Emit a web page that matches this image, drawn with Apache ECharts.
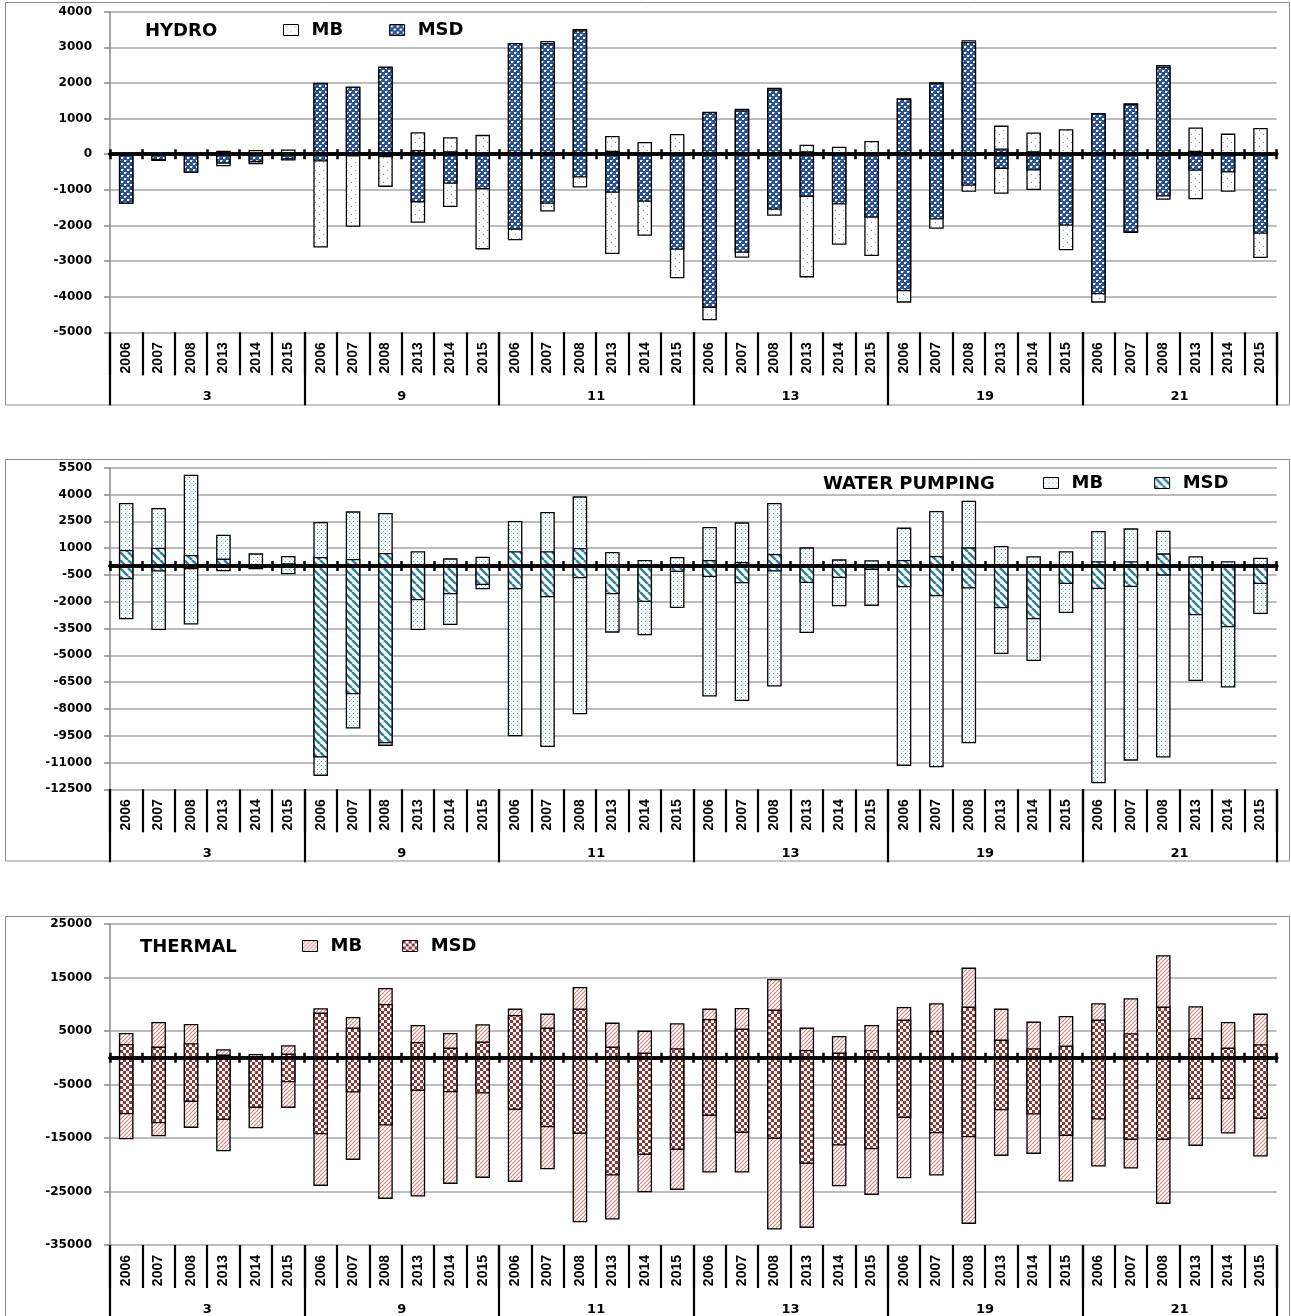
<!DOCTYPE html>
<html>
<head>
<meta charset="utf-8">
<script src="https://cdn.jsdelivr.net/npm/echarts@6/dist/echarts.min.js"></script>
<style>
html,body{margin:0;padding:0;background:#fff;}
#chart{width:1291px;height:1316px;}
</style>
</head>
<body>
<div id="chart"></div>
<script>
// ---------------- DATA ----------------
const years = ['2006','2007','2008','2013','2014','2015'];
const groups = ['3','9','11','13','19','21'];
const categories = [];
groups.forEach(function(){ years.forEach(function(y){ categories.push(y); }); });

// HYDRO
const hydroMBHigh  = [0,0,0,75,100,112, 1975,1865,2425,600,460,525, 3100,3160,3495,495,325,550, 1165,1260,1850,250,190,355, 1550,2000,3180,785,590,680, 1140,1410,2485,730,560,720];
const hydroMBLow   = [-1375,-175,-505,-320,-262,-160, -2600,-2020,-900,-1905,-1465,-2655, -2400,-1590,-915,-2785,-2270,-3465, -4645,-2890,-1710,-3440,-2525,-2840, -4150,-2075,-1035,-1095,-990,-2680, -4150,-2195,-1260,-1245,-1035,-2895];
const hydroMSDHigh = [0,0,0,0,0,0, 1990,1880,2440,100,65,0, 3105,3105,3460,75,30,0, 1170,1215,1805,65,0,0, 1540,1990,3130,140,65,0, 1130,1395,2440,75,45,0];
const hydroMSDLow  = [-1375,-150,-510,-250,-205,-130, -185,-45,-65,-1335,-815,-970, -2105,-1375,-635,-1065,-1320,-2665, -4300,-2750,-1540,-1185,-1395,-1765, -3830,-1815,-870,-395,-440,-1990, -3915,-2180,-1170,-450,-495,-2215];

// WATER PUMPING
const waterMBHigh  = [3490,3210,5075,1715,670,520, 2425,3020,2930,785,390,485, 2480,2985,3860,745,300,465, 2145,2405,3490,1005,335,280, 2110,3040,3620,1080,505,785, 1920,2070,1940,505,225,430];
const waterMBLow   = [-2950,-3545,-3245,-260,-150,-430, -11715,-9065,-10035,-3545,-3265,-1270, -9495,-10095,-8265,-3695,-3845,-2315, -7275,-7520,-6715,-3715,-2220,-2200, -11155,-11230,-9890,-4890,-5280,-2595, -12125,-10860,-10690,-6400,-6770,-2650];
const waterMSDHigh = [860,990,580,375,40,120, 465,355,690,0,0,0, 785,785,970,0,0,0, 300,185,635,0,0,0, 300,520,1005,0,0,0, 225,225,670,0,0,0];
const waterMSDLow  = [-710,-280,-150,-30,-120,-60, -10690,-7145,-9890,-1885,-1550,-1025, -1270,-1715,-655,-1550,-1980,-300, -580,-935,-280,-915,-635,-185, -1155,-1660,-1230,-2330,-2950,-970, -1250,-1140,-505,-2725,-3395,-970];

// THERMAL
const thermalMBHigh  = [4515,6575,6200,1465,590,2210, 9130,7510,12930,6010,4515,6135, 9065,8130,13115,6450,4955,6325, 9065,9190,14610,5515,3955,6010, 9375,10060,16730,9065,6635,7695, 10060,10995,19035,9500,6575,8130];
const thermalMBLow   = [-15110,-14550,-12990,-17350,-13055,-9250, -23830,-18970,-26260,-25825,-23460,-22335, -23085,-20715,-30625,-30125,-25015,-24580, -21340,-21340,-31995,-31680,-23895,-25515, -22400,-21900,-30935,-18225,-17850,-23020, -20220,-20590,-27195,-16355,-14050,-18350];
const thermalMSDHigh = [2460,1965,2585,465,220,655, 8320,5515,9940,2835,1775,2895, 7880,5515,9065,1965,840,1650, 7135,5325,8880,1340,840,1340, 7010,4955,9440,3270,1650,2150, 7010,4455,9440,3585,1775,2400];
const thermalMSDLow  = [-10435,-12120,-8130,-11495,-9250,-4455, -14175,-6385,-12555,-6075,-6325,-6575, -9625,-12865,-14110,-21900,-18035,-17105, -10750,-13925,-15045,-19720,-16295,-16980, -11120,-13990,-14735,-9690,-10500,-14485, -11435,-15235,-15235,-7630,-7630,-11310];

// axis ranges
const panelTitles = ['HYDRO','WATER PUMPING','THERMAL'];
const yMins = [-5000,-12500,-35000];
const yMaxs = [4000,5500,25000];
const yIntervals = [1000,1500,10000];

// ---------------- PATTERNS ----------------
function tile(w,h,draw){const c=document.createElement('canvas');c.width=w;c.height=h;const x=c.getContext('2d');x.fillStyle='#fff';x.fillRect(0,0,w,h);draw(x);return {image:c,repeat:'repeat'};}
const patHydroMB = tile(8,8,function(x){x.fillStyle='#6f93cc';x.fillRect(3,2,1,1);x.fillRect(7,6,1,1);});
const patHydroMSD = tile(6,6,function(x){x.fillStyle='#2b5394';x.fillRect(0,0,6,6);x.fillStyle='#ffffff';x.fillRect(1,1,2,2);x.fillRect(4,4,2,2);x.fillStyle='#8fa8d4';x.fillRect(3,1,1,1);x.fillRect(0,4,1,1);});
const patWaterMB = tile(4,4,function(x){x.fillStyle='#4aaac4';x.fillRect(1,1,1,1);x.fillStyle='#a8d8e4';x.fillRect(3,3,1,1);});
const patWaterMSD = tile(8,8,function(x){x.strokeStyle='#31859c';x.lineWidth=2.6;x.beginPath();[-8,0,8].forEach(function(o){x.moveTo(o,0);x.lineTo(o+8,8);});x.stroke();});
const patThermalMB = tile(4,4,function(x){x.strokeStyle='#d9817e';x.lineWidth=1.1;x.beginPath();[-4,0,4].forEach(function(o){x.moveTo(o,4);x.lineTo(o+4,0);});x.stroke();});
const patThermalMSD = tile(6,6,function(x){x.fillStyle='#963634';x.fillRect(0,0,3,3);x.fillRect(3,3,3,3);});

const panelSeries = [
  {prefix:'hydro', mb:[hydroMBLow,hydroMBHigh], msd:[hydroMSDLow,hydroMSDHigh], pats:[patHydroMB,patHydroMSD]},
  {prefix:'water', mb:[waterMBLow,waterMBHigh], msd:[waterMSDLow,waterMSDHigh], pats:[patWaterMB,patWaterMSD]},
  {prefix:'thermal', mb:[thermalMBLow,thermalMBHigh], msd:[thermalMSDLow,thermalMSDHigh], pats:[patThermalMB,patThermalMSD]}
];

// ---------------- LAYOUT ----------------
const gridTops = [11.7, 467.7, 924];
const gridHeights = [320.6, 321.6, 321];
const boxes = [[5.5,2.5,1284,402.5],[5.5,459.5,1284,401.5],[5.5,916.5,1284,402]];
const titlePos = [[145,22],[823,475],[140,938]];
const legendPos = [[283,21,46],[1043,474,51],[302,937,40]];

const FONT = 'DejaVu Sans';
const grids=[], xAxes=[], yAxes=[], series=[], titles=[], legends=[], graphics=[];

function renderRange(pattern){
  return function(params, api){
    const i = api.value(0);
    const lo = api.coord([i, api.value(1)]);
    const hi = api.coord([i, api.value(2)]);
    const bw = api.size([1,0])[0]*0.41;
    return {type:'rect', shape:{x:lo[0]-bw/2, y:hi[1], width:bw, height:lo[1]-hi[1]},
      style:{fill:pattern, stroke:'#000', lineWidth:1.3}};
  };
}

for (let p=0;p<3;p++){
  grids.push({left:110, width:1166.7, top:gridTops[p], height:gridHeights[p], containLabel:false});
  // zero line axis (ticks upward)
  xAxes.push({type:'category', gridIndex:p, data:categories, position:'bottom', z:6,
    axisLine:{show:true, onZero:true, onZeroAxisIndex:p, lineStyle:{color:'#000', width:3.5}},
    axisTick:{show:true, inside:true, length:5, interval:0, lineStyle:{color:'#000', width:2.5}},
    axisLabel:{show:false}, splitLine:{show:false}});
  // zero line axis (ticks downward)
  xAxes.push({type:'category', gridIndex:p, data:categories, position:'bottom', z:6,
    axisLine:{show:true, onZero:true, onZeroAxisIndex:p, lineStyle:{color:'#000', width:3.5}},
    axisTick:{show:true, inside:false, length:5, interval:0, lineStyle:{color:'#000', width:2.5}},
    axisLabel:{show:false}, splitLine:{show:false}});
  // years axis
  xAxes.push({type:'category', gridIndex:p, data:categories, position:'bottom',
    axisLine:{show:false, onZero:false},
    axisTick:{show:true, length:43, interval:0, lineStyle:{color:'#000', width:2.2}},
    axisLabel:{show:true, interval:0, rotate:90, margin:10, color:'#000', fontFamily:'Liberation Sans', fontWeight:'bold', fontSize:14},
    splitLine:{show:false}});
  // groups axis
  xAxes.push({type:'category', gridIndex:p, data:groups, position:'bottom',
    axisLine:{show:false, onZero:false},
    axisTick:{show:true, length:73, interval:0, lineStyle:{color:'#000', width:2.2}},
    axisLabel:{show:true, interval:0, margin:58, color:'#000', fontFamily:FONT, fontWeight:'bold', fontSize:13},
    splitLine:{show:false}});
  yAxes.push({type:'value', gridIndex:p, min:yMins[p], max:yMaxs[p], interval:yIntervals[p],
    axisLine:{show:true, onZero:false, lineStyle:{color:'#8a8a8a', width:1.5}},
    axisTick:{show:true, length:6, lineStyle:{color:'#8a8a8a', width:1.5}},
    axisLabel:{show:true, margin:18, color:'#000', fontFamily:FONT, fontWeight:'bold', fontSize:12,
      formatter:function(v){return String(v);}},
    splitLine:{show:true, lineStyle:{color:'#a6a6a6', width:1.5}}});

  const ps = panelSeries[p];
  const mbData = categories.map(function(c,i){return [i, ps.mb[0][i], ps.mb[1][i]];});
  const msdData = categories.map(function(c,i){return [i, ps.msd[0][i], ps.msd[1][i]];});
  series.push({type:'custom', name:ps.prefix+'MB', xAxisIndex:4*p+2, yAxisIndex:p,
    itemStyle:{color:ps.pats[0], borderColor:'#000', borderWidth:1},
    renderItem:renderRange(ps.pats[0]), encode:{x:0, y:[1,2]}, data:mbData, z:2});
  series.push({type:'custom', name:ps.prefix+'MSD', xAxisIndex:4*p+2, yAxisIndex:p,
    itemStyle:{color:ps.pats[1], borderColor:'#000', borderWidth:1},
    renderItem:renderRange(ps.pats[1]), encode:{x:0, y:[1,2]}, data:msdData, z:3});

  titles.push({text:panelTitles[p], left:titlePos[p][0], top:titlePos[p][1], padding:0,
    textStyle:{fontFamily:FONT, fontWeight:'bold', fontSize:18, color:'#000'}});
  legends.push({data:[ps.prefix+'MB', ps.prefix+'MSD'], left:legendPos[p][0], top:legendPos[p][1],
    orient:'horizontal', padding:0, itemGap:legendPos[p][2], itemWidth:15, itemHeight:11, icon:'rect',
    selectedMode:false,
    itemStyle:{borderColor:'#000', borderWidth:1},
    formatter:function(n){return n.replace(/^(hydro|water|thermal)/,'');},
    textStyle:{fontFamily:FONT, fontWeight:'bold', fontSize:18, color:'#000', padding:[0,0,0,8]}});
  graphics.push({type:'rect', silent:true, z:-10,
    shape:{x:boxes[p][0], y:boxes[p][1], width:boxes[p][2], height:boxes[p][3]},
    style:{fill:'none', stroke:'#8c8c8c', lineWidth:1}});
}

const chart = echarts.init(document.getElementById('chart'), null, {renderer:'canvas'});
chart.setOption({
  animation:false,
  backgroundColor:'#fff',
  title:titles,
  legend:legends,
  grid:grids,
  xAxis:xAxes,
  yAxis:yAxes,
  series:series,
  graphic:graphics
});
</script>
</body>
</html>
